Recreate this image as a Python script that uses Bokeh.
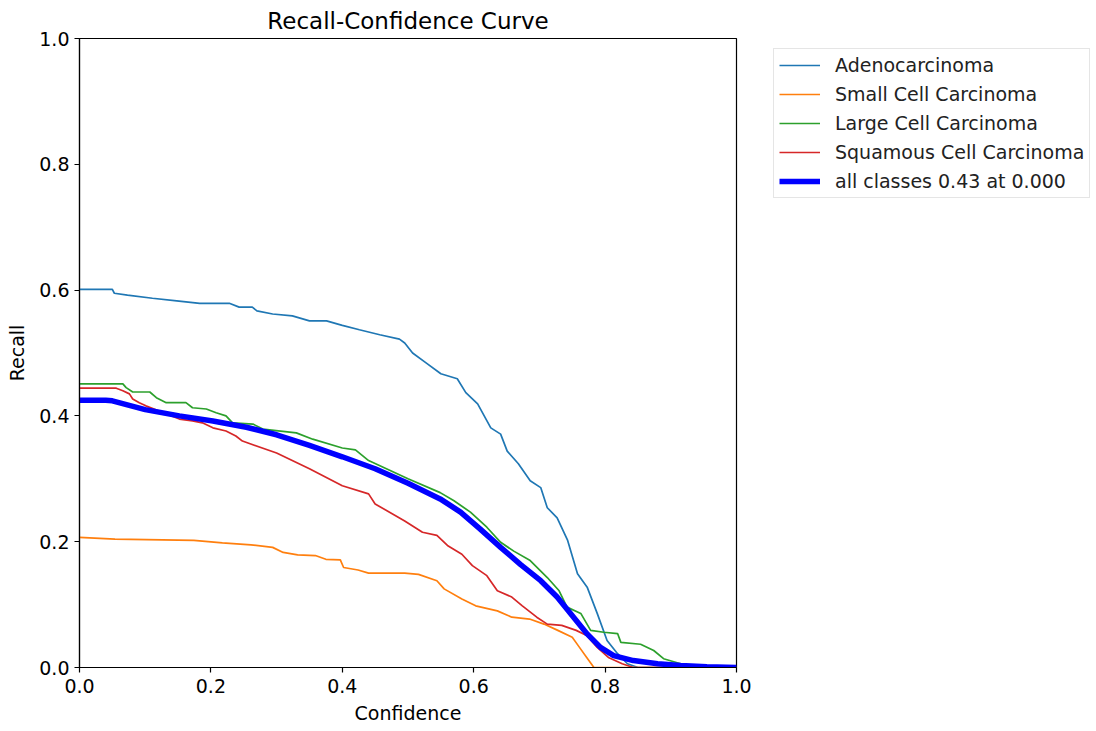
from bokeh.plotting import figure
from bokeh.models import Range1d, FixedTicker, Legend, LegendItem, CustomJSTickFormatter
from bokeh.layouts import row
from bokeh.embed import file_html
from bokeh.resources import INLINE

FONT = "DejaVu Sans"

# ---- data ----
adeno_x = [0, 0.05, 0.053, 0.073, 0.111, 0.148, 0.183, 0.228, 0.243, 0.263, 0.27, 0.294, 0.324, 0.35, 0.376,
           0.40, 0.426, 0.457, 0.487, 0.495, 0.507, 0.528, 0.55, 0.575, 0.588, 0.606, 0.626, 0.641, 0.651, 0.668,
           0.686, 0.702, 0.712, 0.727, 0.743, 0.758, 0.773, 0.788, 0.803, 0.819, 0.834, 0.85, 1.0]
adeno_y = [0.601, 0.601, 0.595, 0.592, 0.587, 0.583, 0.579, 0.579, 0.573, 0.573, 0.567, 0.562, 0.559, 0.551, 0.551,
           0.544, 0.537, 0.529, 0.522, 0.516, 0.5, 0.484, 0.467, 0.459, 0.437, 0.419, 0.381, 0.371, 0.344, 0.324,
           0.297, 0.286, 0.254, 0.238, 0.202, 0.149, 0.127, 0.086, 0.043, 0.022, 0.006, 0.0, 0.0]

small_x = [0, 0.054, 0.174, 0.2175, 0.261, 0.294, 0.31, 0.332, 0.359, 0.375, 0.397, 0.402, 0.424, 0.44, 0.495,
           0.516, 0.544, 0.555, 0.582, 0.603, 0.636, 0.658, 0.685, 0.707, 0.728, 0.75, 0.761, 0.772, 0.783, 1.0]
small_y = [0.207, 0.204, 0.202, 0.198, 0.195, 0.191, 0.183, 0.179, 0.178, 0.172, 0.171, 0.159, 0.155, 0.150, 0.150,
           0.148, 0.138, 0.125, 0.109, 0.098, 0.09, 0.08, 0.077, 0.069, 0.059, 0.048, 0.032, 0.016, 0.0, 0.0]

large_x = [0, 0.066, 0.071, 0.081, 0.107, 0.117, 0.132, 0.162, 0.172, 0.193, 0.208, 0.223, 0.233, 0.264, 0.279,
           0.33, 0.355, 0.40, 0.42, 0.44, 0.5, 0.549, 0.57, 0.595, 0.62, 0.641, 0.661, 0.686, 0.712, 0.73, 0.742,
           0.763, 0.778, 0.798, 0.819, 0.824, 0.854, 0.874, 0.889, 0.915, 0.935, 1.0]
large_y = [0.451, 0.451, 0.445, 0.438, 0.438, 0.429, 0.421, 0.421, 0.413, 0.411, 0.405, 0.40, 0.389, 0.387, 0.379,
           0.373, 0.363, 0.349, 0.346, 0.329, 0.30, 0.278, 0.265, 0.247, 0.223, 0.199, 0.185, 0.17, 0.143, 0.122,
           0.096, 0.086, 0.059, 0.056, 0.054, 0.04, 0.037, 0.027, 0.014, 0.006, 0.0, 0.0]

squam_x = [0, 0.056, 0.066, 0.076, 0.081, 0.091, 0.101, 0.152, 0.172, 0.187, 0.203, 0.223, 0.238, 0.248, 0.3,
           0.35, 0.4, 0.44, 0.45, 0.495, 0.522, 0.544, 0.56, 0.582, 0.598, 0.62, 0.636, 0.658, 0.674, 0.696, 0.712,
           0.734, 0.756, 0.772, 0.788, 0.805, 0.826, 0.843, 1.0]
squam_y = [0.444, 0.444, 0.44, 0.435, 0.427, 0.421, 0.416, 0.395, 0.392, 0.389, 0.381, 0.376, 0.368, 0.36, 0.341,
           0.316, 0.289, 0.276, 0.26, 0.233, 0.215, 0.21, 0.194, 0.18, 0.162, 0.146, 0.122, 0.112, 0.098, 0.08,
           0.069, 0.067, 0.059, 0.051, 0.032, 0.016, 0.006, 0.0, 0.0]

all_x = [0, 0.04, 0.05, 0.1, 0.152, 0.203, 0.254, 0.3, 0.35, 0.4, 0.45, 0.5, 0.549, 0.58, 0.61, 0.641, 0.671,
         0.702, 0.727, 0.752, 0.773, 0.793, 0.813, 0.843, 0.88, 0.915, 0.955, 1.0]
all_y = [0.425, 0.425, 0.424, 0.41, 0.4, 0.392, 0.382, 0.37, 0.353, 0.335, 0.316, 0.293, 0.268, 0.247, 0.22, 0.191,
         0.164, 0.138, 0.112, 0.08, 0.053, 0.032, 0.019, 0.011, 0.006, 0.003, 0.001, 0.0]

class_names = ["Adenocarcinoma", "Small Cell Carcinoma", "Large Cell Carcinoma", "Squamous Cell Carcinoma"]
class_colors = ["#1f77b4", "#ff7f0e", "#2ca02c", "#d62728"]
all_label = "all classes 0.43 at 0.000"
ticks = [0.0, 0.2, 0.4, 0.6, 0.8, 1.0]

THIN = 1.7
THICK = 5.5

# ---- main figure ----
p = figure(width=760, height=731, output_backend="svg", toolbar_location=None,
           x_range=Range1d(0, 1), y_range=Range1d(0, 1),
           min_border_left=79, min_border_right=24, min_border_top=37, min_border_bottom=64,
           title="Recall-Confidence Curve")
p.background_fill_color = "white"
p.border_fill_color = "white"
p.outline_line_color = "black"
p.outline_line_width = 1.2
p.grid.visible = False

p.title.align = "center"
p.title.text_font = FONT
p.title.text_font_size = "23px"
p.title.text_font_style = "normal"
p.title.text_color = "black"
p.title.offset = 0

for ax in (p.xaxis[0], p.yaxis[0]):
    ax.ticker = FixedTicker(ticks=ticks)
    ax.formatter = CustomJSTickFormatter(code="return tick.toFixed(1);")
    ax.major_label_text_font = FONT
    ax.major_label_text_font_size = "19px"
    ax.major_label_text_color = "black"
    ax.axis_label_text_font = FONT
    ax.axis_label_text_font_size = "19px"
    ax.axis_label_text_font_style = "normal"
    ax.axis_label_text_color = "black"
    ax.axis_line_color = "black"
    ax.axis_line_width = 1.2
    ax.major_tick_line_color = "black"
    ax.major_tick_line_width = 1.2
    ax.major_tick_out = 5
    ax.major_tick_in = 0
    ax.minor_tick_line_color = None
    ax.major_label_standoff = 5

p.xaxis[0].axis_label = "Confidence"
p.yaxis[0].axis_label = "Recall"
p.xaxis[0].major_label_standoff = 6
p.xaxis[0].axis_label_standoff = 6
p.yaxis[0].axis_label_standoff = 8

series = [(adeno_x, adeno_y), (small_x, small_y), (large_x, large_y), (squam_x, squam_y)]
for (xs, ys), col in zip(series, class_colors):
    p.line(xs, ys, line_color=col, line_width=THIN)
p.line(all_x, all_y, line_color="#0000ff", line_width=THICK)

# ---- legend panel (separate figure to the right, no axes) ----
q = figure(width=336, height=731, output_backend="svg", toolbar_location=None,
           x_range=Range1d(0, 1), y_range=Range1d(0, 1),
           x_axis_location=None, y_axis_location=None,
           min_border_left=3, min_border_right=0, min_border_top=37, min_border_bottom=64)
q.grid.visible = False
q.outline_line_color = None
q.background_fill_color = "white"
q.border_fill_color = "white"

# legend swatches: same styles, drawn off-frame so only the legend shows them
items = []
for name, col in zip(class_names, class_colors):
    r = q.line([5, 6], [5, 6], line_color=col, line_width=THIN)
    items.append(LegendItem(label=name, renderers=[r]))
r_all = q.line([5, 6], [5, 6], line_color="#0000ff", line_width=THICK)
items.append(LegendItem(label=all_label, renderers=[r_all]))

legend = Legend(items=items, location="top_left")
legend.label_text_font = FONT
legend.label_text_font_size = "19px"
legend.label_text_color = "#222222"
legend.glyph_width = 41
legend.glyph_height = 20
legend.label_height = 20
legend.spacing = 7
legend.padding = 5
legend.label_standoff = 15
legend.margin = 10
legend.border_line_color = "#cccccc"
legend.border_line_width = 1.2
legend.background_fill_color = "white"
legend.background_fill_alpha = 0.8
q.add_layout(legend, "center")

layout = row(p, q, spacing=0)
open("out.html", "w").write(file_html(layout, INLINE))
